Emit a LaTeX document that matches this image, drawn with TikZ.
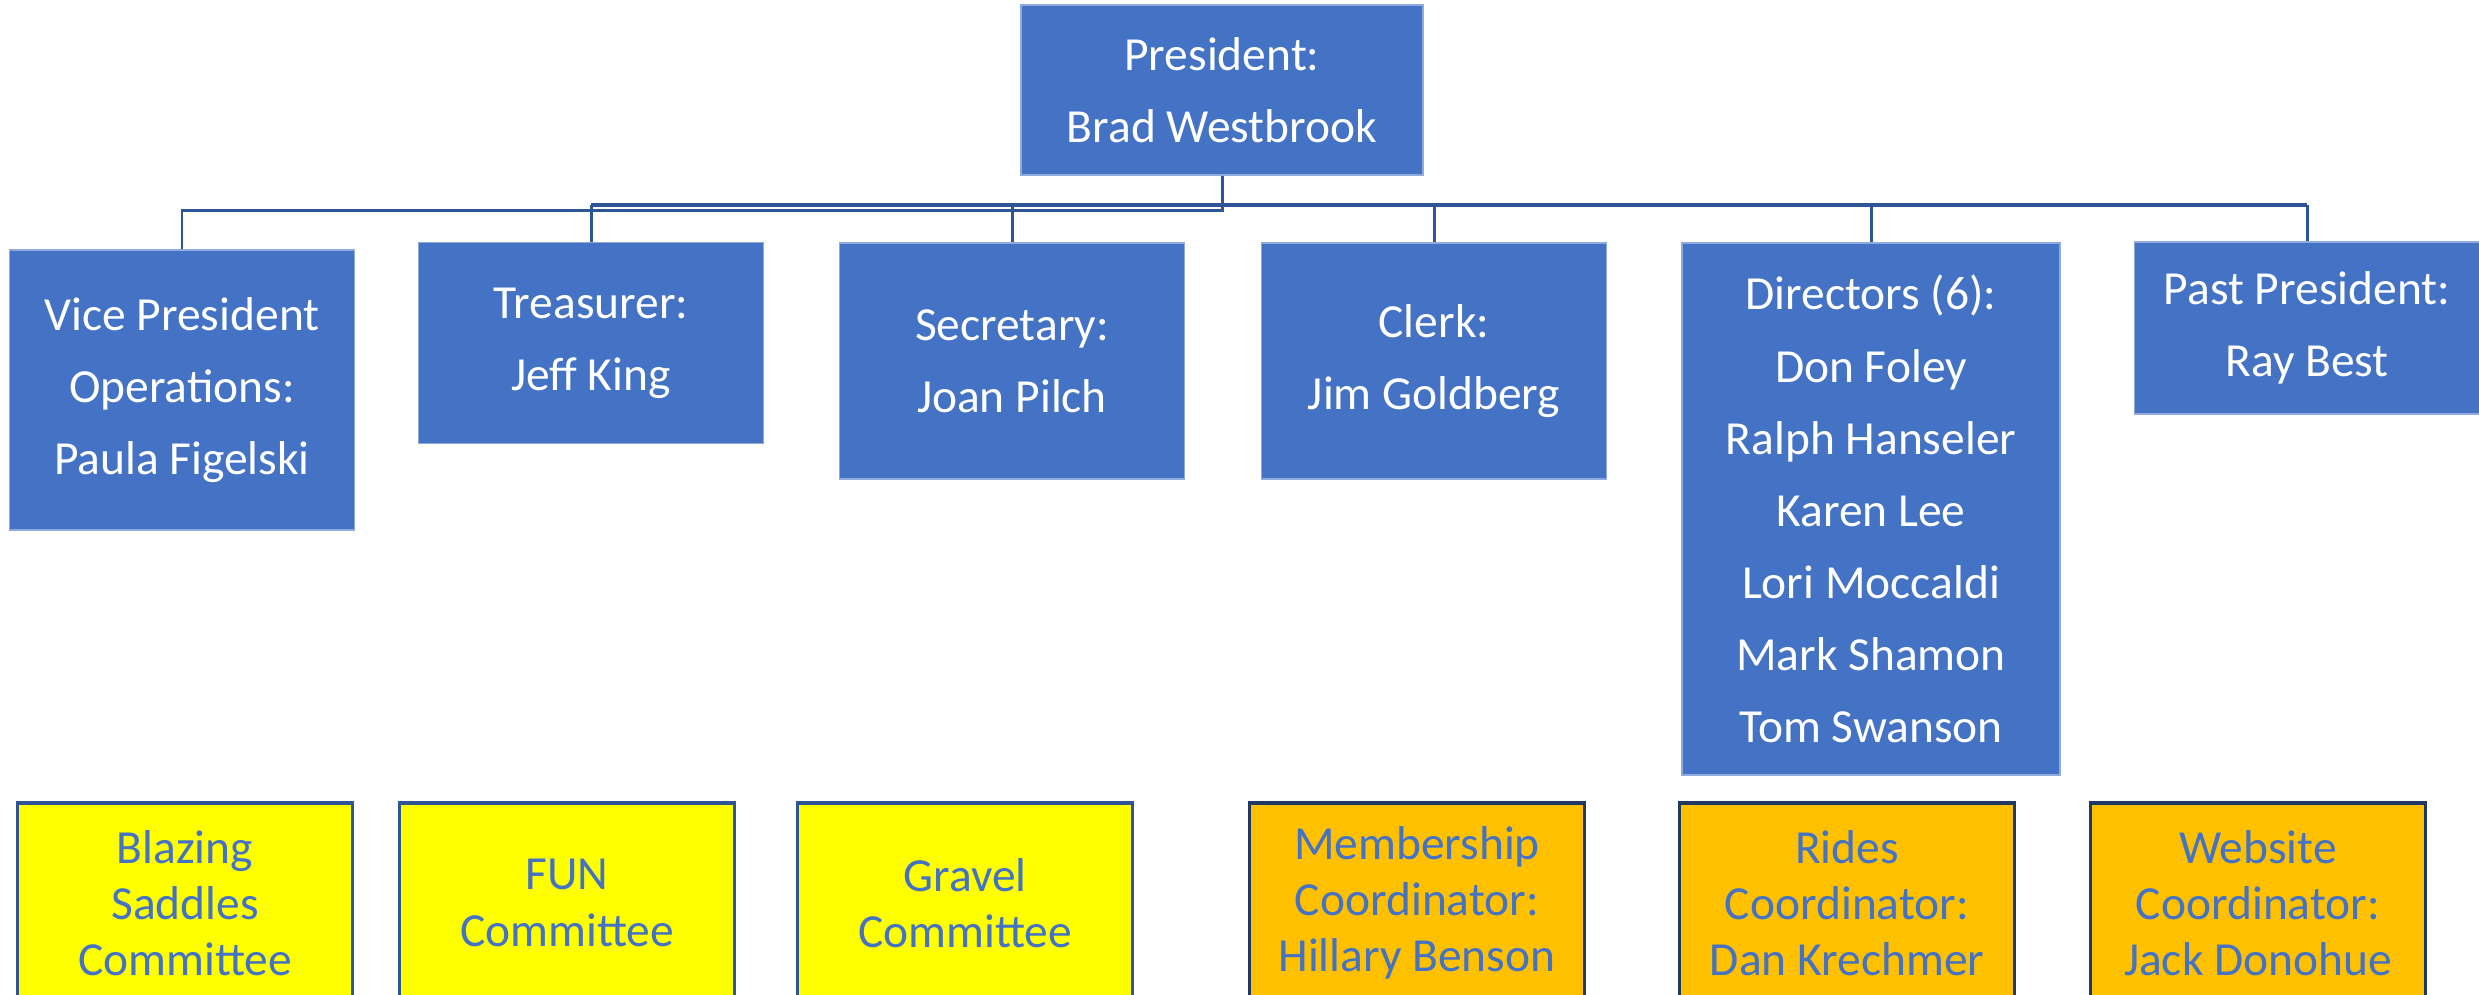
\documentclass[tikz,border=0pt]{standalone}
\usepackage{fontspec}
\setmainfont{Carlito}
\usepackage{tikz}
\definecolor{boardblue}{HTML}{4472C4}
\definecolor{linkblue}{HTML}{2F5597}
\definecolor{edgeblue}{HTML}{8FAADC}
\definecolor{navyedge}{HTML}{203864}
\definecolor{cmtyellow}{HTML}{FFFF00}
\definecolor{coordgold}{HTML}{FFC000}

\begin{document}
\begin{tikzpicture}[x=0.01cm, y=-0.01cm, line width=1pt,
    board/.style={fill=boardblue, draw=edgeblue, line width=0.4pt, text=white, align=center,
        inner sep=0pt, minimum width=3.45cm, font=\fontsize{13.5}{20.5}\selectfont},
    cmtybox/.style={fill=cmtyellow, draw=linkblue, line width=1pt, text=boardblue, align=center,
        inner sep=0pt, minimum width=3.35cm, minimum height=2cm, font=\fontsize{13.5}{16}\selectfont},
    coordbox/.style={cmtybox, fill=coordgold, draw=navyedge},
    link/.style={draw=linkblue, line width=0.85pt}]
    \useasboundingbox (0, 0) rectangle (2479, 994);
    \clip (0, 0) rectangle (2479, 994);

    % draw board
    \node[board, minimum width=4.02cm, minimum height=1.70cm] (pres) at (1222, 90) {President:\\Brad Westbrook};

    \node[board, minimum height=2.80cm] (vp) at (182, 390) {Vice President\\Operations:\\Paula Figelski};
    \node[board, minimum height=2.01cm] (treas) at (591, 343) {Treasurer:\\Jeff King};
    \node[board, minimum height=2.36cm] (sec) at (1012, 361) {Secretary:\\Joan Pilch};
    \node[board, minimum height=2.36cm] (clerk) at (1434, 361) {Clerk:\\Jim Goldberg};
    \node[board, minimum width=3.78cm, minimum height=5.32cm] (dirs) at (1871, 509)
        {Directors (6):\\Don Foley\\Ralph Hanseler\\Karen Lee\\Lori Moccaldi\\Mark Shamon\\Tom Swanson};
    \node[board, minimum height=1.72cm] (past) at (2307, 328) {Past President:\\Ray Best};

    % draw connectors
    \coordinate (busL) at (591, 205);
    \coordinate (busR) at (2307, 205);

    \draw[link] (pres.south) -- ++(0, 35) -| (vp.north);
    \draw[link, line width=1.15pt] (treas.north |- busL) -- (busR);
    \draw[link] (treas.north) -- (treas.north |- busL);
    \draw[link] (sec.north) -- (sec.north |- busL);
    \draw[link] (clerk.north) -- (clerk.north |- busL);
    \draw[link] (dirs.north) -- (dirs.north |- busL);
    \draw[link] (past.north) -- (busR);

    % draw committees and coordinators
    \node[cmtybox] (blazing) at (185, 903) {Blazing\\Saddles\\Committee};
    \node[cmtybox] (fun) at (567, 903) {FUN\\Committee};
    \node[cmtybox] (gravel) at (965, 903) {Gravel\\Committee};

    \node[coordbox] (member) at (1417, 903) {Membership\\Coordinator:\\Hillary Benson};
    \node[coordbox] (rides) at (1847, 903) {Rides\\Coordinator:\\Dan Krechmer};
    \node[coordbox] (website) at (2258, 903) {Website\\Coordinator:\\Jack Donohue};
\end{tikzpicture}
\end{document}
